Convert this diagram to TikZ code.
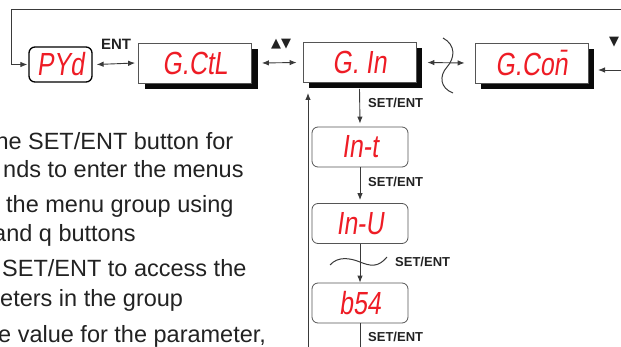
\documentclass[tikz,border=0pt]{standalone}
\usepackage{fontspec}
\setmainfont{Liberation Sans}
\newfontfamily\segfont[FakeSlant=0.14,FakeStretch=0.78]{Liberation Sans}
\newfontfamily\symfont{DejaVu Sans}
\usetikzlibrary{arrows.meta}
\definecolor{segred}{HTML}{EE1C25}
\definecolor{linegray}{HTML}{3A3A3A}
\definecolor{boxgray}{HTML}{555555}
\definecolor{txtgray}{HTML}{222222}
\definecolor{shadowc}{HTML}{0A0A0A}
\begin{document}
\begin{tikzpicture}[x=1pt,y=-1pt,
  conn/.style={draw=linegray,line width=0.9pt},
  tip/.style={-{Latex[length=7pt,width=5.5pt]}},
  dtip/.style={{Latex[length=7pt,width=5.5pt]}-{Latex[length=7pt,width=5.5pt]}},
  segtext/.style={text=segred,font=\segfont\fontsize{32}{32}\selectfont,inner sep=0pt},
  shbox/.style={rectangle,draw=boxgray,line width=0.8pt,fill=white,minimum width=113pt,minimum height=40pt,inner sep=0pt},
  rbox/.style={rectangle,rounded corners=6pt,draw=boxgray,line width=0.8pt,fill=white,minimum width=96pt,minimum height=40pt,inner sep=0pt},
  keylbl/.style={font=\bfseries\fontsize{13}{13}\selectfont,text=txtgray,inner sep=0pt},
  body/.style={font=\fontsize{23.5}{23.5}\selectfont,text=txtgray,inner sep=0pt,anchor=base west}
]
\useasboundingbox (0,0) rectangle (621,347);

% shadows (drawn first, behind the boxes)
\fill[shadowc] (145,49) rectangle (258,89);
\fill[shadowc] (309,48.5) rectangle (422,88.5);
\fill[shadowc] (481,49) rectangle (594,89);

% top row
\node[rectangle,rounded corners=6pt,draw=black,line width=1.3pt,fill=white,minimum width=63pt,minimum height=35pt,inner sep=0pt] (pyd) at (60.5,64.5) {};
\node[segtext] at (pyd.center) {PYd};
\node[shbox] (gctl) at (195,63) {};
\node[segtext] at (gctl.center) {G.CtL};
\node[shbox] (gin) at (359.5,62.5) {};
\node[segtext] at (gin.center) {G. In};
\node[shbox] (gcon) at (531.5,63) {};
\node[segtext] at (gcon.center) {G.Co\=n};

% column
\node[rbox] (int) at (360,147) {};
\node[segtext] at (int.center) {In-t};
\node[rbox] (inu) at (360,223.5) {};
\node[segtext] at (inu.center) {In-U};
\node[rbox] (bs) at (360,303) {};
\node[segtext] at (bs.center) {b54};

% left text
\node[body] (t1) at (-4.7,150) {he SET/ENT button for};
\node[body] (t2) at (3,178) {nds to enter the menus};
\node[body] (t3) at (6,213) {the menu group using};
\node[body] (t4) at (-7,242) {and q buttons};
\node[body] (t5) at (2,277) {SET/ENT to access the};
\node[body] (t6) at (0,307) {eters in the group};
\node[body] (t7) at (-2,342) {e value for the parameter,};

% coordinates
\coordinate (tr) at (621,9);
\coordinate (tl) at (11,9);
\coordinate (re) at (621,70);
\coordinate (rt) at (598,70);
\coordinate (ub) at (308,347);
\coordinate (ut) at (308,93);
\coordinate (cb) at (360,347);

% connectors
\draw[conn,tip] (tr) -- (tl) |- ([xshift=-1pt]pyd.west);
\draw[conn,dtip] ([xshift=4pt]pyd.east) -- ([xshift=-3pt]gctl.west);
\draw[conn,dtip] ([xshift=10pt]gctl.east) -- ([xshift=-6pt]gin.west);
\draw[conn,dtip] ([xshift=11pt]gin.east) -- ([xshift=-10pt]gcon.west);
\draw[conn,tip] (re) -- (rt);
\draw[conn,tip] (ub) -- (ut);
\draw[conn,tip] ([yshift=-6pt]gin.south) -- ([yshift=3pt]int.north);
\draw[conn,tip] (int.south) -- ([yshift=3pt]inu.north);
\draw[conn,tip] (inu.south) -- (bs.north);
\draw[conn] (bs.south) -- (cb);

% break marks
\draw[conn,line width=1pt] (443,38) .. controls (456,45) and (455,58) .. (447,67) .. controls (439,76) and (440,88) .. (453,93);
\draw[conn,line width=1pt] (330,265) .. controls (338,256) and (350,258) .. (360,262) .. controls (370,266) and (378,268) .. (387,257);

% labels
\node[font=\bfseries\fontsize{15}{15}\selectfont,text=txtgray,inner sep=0pt] (ent) at (116,44) {ENT};
\node[font=\symfont\fontsize{13}{13}\selectfont,text=txtgray,inner sep=0pt] (ud) at (281,44) {▲▼};
\node[font=\symfont\fontsize{13}{13}\selectfont,text=txtgray,inner sep=0pt] (dn) at (614,42) {▼};
\node[keylbl,anchor=west] (l1) at (368,103) {SET/ENT};
\node[keylbl,anchor=west] (l2) at (368,182) {SET/ENT};
\node[keylbl,anchor=west] (l3) at (395,262) {SET/ENT};
\node[keylbl,anchor=west] (l4) at (368,337) {SET/ENT};
\end{tikzpicture}
\end{document}
